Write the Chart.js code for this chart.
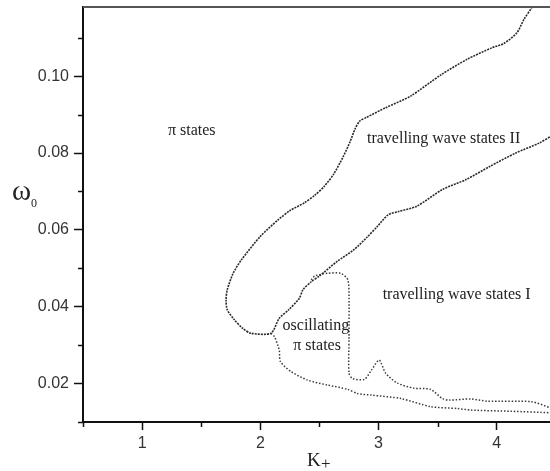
<!DOCTYPE html>
<html lang="en">
<head>
<meta charset="UTF-8">
<title>Phase diagram</title>
<script src="https://cdn.jsdelivr.net/npm/chart.js"></script>
<style>
  body { margin: 0; background: #fff; }
  #wrap { width: 550px; height: 471px; }
</style>
</head>
<body>
<div id="wrap"><canvas id="chart"></canvas></div>
<script>
// boundary of the travelling wave region (fine dotted)
const denseK = [4.30, 4.23, 4.17, 4.06, 3.96, 3.75, 3.53, 3.27, 3.06, 2.90, 2.84, 2.80, 2.76, 2.70, 2.62, 2.54, 2.46, 2.37, 2.25, 2.15, 2.00, 1.84, 1.77, 1.72, 1.71, 1.72, 1.78, 1.85, 1.92, 2.09, 2.16, 2.24, 2.33, 2.36, 2.43, 2.50, 2.65, 2.79, 2.90, 2.99, 3.08, 3.17, 3.32, 3.54, 3.74, 3.94, 4.16, 4.36, 4.46];
const denseW = [0.1180, 0.1148, 0.1113, 0.1085, 0.1074, 0.1044, 0.1004, 0.0948, 0.0918, 0.0893, 0.0883, 0.0862, 0.0830, 0.0790, 0.0745, 0.0713, 0.0690, 0.0670, 0.0650, 0.0626, 0.0583, 0.0522, 0.0487, 0.0444, 0.0418, 0.0392, 0.0366, 0.0344, 0.0331, 0.0331, 0.0370, 0.0392, 0.0422, 0.0444, 0.0465, 0.0480, 0.0518, 0.0548, 0.0580, 0.0609, 0.0639, 0.0648, 0.0661, 0.0705, 0.0731, 0.0765, 0.0800, 0.0826, 0.0844];

// oscillating pi states, upper edge
const loopK = [2.43, 2.46, 2.57, 2.68, 2.74, 2.75, 2.75, 2.75, 2.78, 2.88, 2.94, 3.005, 3.06, 3.16, 3.30, 3.44, 3.54, 3.60, 3.78, 3.92, 4.29, 4.46];
const loopW = [0.0470, 0.0480, 0.0487, 0.0487, 0.0470, 0.0426, 0.0320, 0.0227, 0.0213, 0.0211, 0.0235, 0.0261, 0.0227, 0.0201, 0.0188, 0.0185, 0.0161, 0.0157, 0.0160, 0.0154, 0.0153, 0.0136];

// oscillating pi states, lower edge
const lowK = [2.09, 2.12, 2.16, 2.17, 2.26, 2.40, 2.57, 2.74, 2.82, 2.94, 3.19, 3.44, 3.67, 3.78, 4.12, 4.46];
const lowW = [0.0331, 0.0322, 0.0287, 0.0257, 0.0231, 0.0209, 0.0196, 0.0185, 0.0174, 0.0170, 0.0161, 0.0140, 0.0135, 0.0131, 0.0128, 0.0124];

const xTicks = [0.5, 1, 1.5, 2, 2.5, 3, 3.5, 4];
const xLabels = ['', '1', '', '2', '', '3', '', '4'];
const yTicks = [0.01, 0.02, 0.03, 0.04, 0.05, 0.06, 0.07, 0.08, 0.09, 0.10, 0.11];
const yLabels = ['', '0.02', '', '0.04', '', '0.06', '', '0.08', '', '0.10', ''];

const regionNames = ['\u03c0 states', 'travelling wave states II', 'travelling wave states I', 'oscillating', '\u03c0 states'];
const regionK = [1.42, 3.55, 3.66, 2.47, 2.48];
const regionW = [0.0857, 0.0837, 0.0431, 0.0350, 0.0298];

const toPts = (xs, ys) => xs.map((x, i) => ({ x: x, y: ys[i] }));

const isMajorX = v => Math.abs(v - Math.round(v)) < 1e-6;
const isMajorY = v => Math.round(v * 100) % 2 === 0;

// minor ticks, frame top line, region names and axis titles
const extras = {
  id: 'extras',
  afterDraw(chart) {
    const { ctx, chartArea: a, scales: { x, y } } = chart;
    ctx.save();
    ctx.strokeStyle = '#111';
    ctx.lineWidth = 1.5;
    ctx.beginPath();
    xTicks.forEach(v => {
      if (isMajorX(v)) return;
      const px = Math.round(x.getPixelForValue(v)) + 0.5;
      ctx.moveTo(px, a.bottom);
      ctx.lineTo(px, a.bottom + 5);
    });
    yTicks.forEach(v => {
      if (isMajorY(v)) return;
      const py = Math.round(y.getPixelForValue(v)) + 0.5;
      ctx.moveTo(a.left, py);
      ctx.lineTo(a.left - 5, py);
    });
    ctx.stroke();

    ctx.strokeStyle = '#555';
    ctx.lineWidth = 2;
    ctx.beginPath();
    ctx.moveTo(a.left, a.top);
    ctx.lineTo(a.right, a.top);
    ctx.stroke();

    ctx.fillStyle = '#222';
    ctx.font = '16px "Liberation Serif", "Times New Roman", serif';
    ctx.textAlign = 'center';
    ctx.textBaseline = 'middle';
    regionNames.forEach((t, i) => {
      ctx.fillText(t, x.getPixelForValue(regionK[i]), y.getPixelForValue(regionW[i]));
    });

    // y title: omega with subscript 0
    ctx.textAlign = 'left';
    ctx.textBaseline = 'alphabetic';
    ctx.font = '29px "Liberation Serif", serif';
    ctx.fillText('\u03c9', 12, 200);
    ctx.font = '12px "Liberation Serif", serif';
    ctx.fillText('0', 31, 207);

    // x title: K with subscript +
    ctx.font = '19px "Liberation Serif", serif';
    ctx.fillText('K', 307, 466);
    ctx.font = '17px "Liberation Serif", serif';
    ctx.fillText('+', 321, 469);
    ctx.restore();
  }
};

const lineStyle = {
  showLine: true,
  pointRadius: 0,
  fill: false,
  tension: 0.25
};

new Chart(document.getElementById('chart'), {
  type: 'scatter',
  data: {
    datasets: [
      Object.assign({ data: toPts(denseK, denseW), borderColor: '#2a2a2a', borderWidth: 1.6, borderDash: [2, 1] }, lineStyle),
      Object.assign({ data: toPts(loopK, loopW), borderColor: '#3a3a3a', borderWidth: 1.5, borderDash: [1.5, 1.8] }, lineStyle),
      Object.assign({ data: toPts(lowK, lowW), borderColor: '#3a3a3a', borderWidth: 1.5, borderDash: [1.5, 1.8] }, lineStyle)
    ]
  },
  options: {
    responsive: true,
    maintainAspectRatio: false,
    animation: false,
    layout: { padding: { top: 7, right: 0, left: 0, bottom: 0 } },
    plugins: { legend: { display: false }, tooltip: { enabled: false } },
    scales: {
      x: {
        type: 'linear',
        min: 0.5,
        max: 4.45,
        afterBuildTicks: s => { s.ticks = xTicks.map(v => ({ value: v })); },
        afterFit: s => { s.height = 49; s.paddingLeft = 0; s.paddingRight = 0; },
        ticks: {
          callback: (v, i) => xLabels[i],
          color: '#333',
          font: { family: '"Liberation Sans", Arial, sans-serif', size: 16 },
          padding: 4,
          maxRotation: 0,
          autoSkip: false
        },
        grid: {
          drawOnChartArea: false,
          tickLength: 8,
          tickWidth: 1.5,
          color: c => (c.tick && isMajorX(c.tick.value)) ? '#111' : 'rgba(0,0,0,0)'
        },
        border: { display: true, color: '#111', width: 2 }
      },
      y: {
        type: 'linear',
        min: 0.01,
        max: 0.118,
        afterBuildTicks: s => { s.ticks = yTicks.map(v => ({ value: v })); },
        afterFit: s => { s.width = 83; s.paddingTop = 0; s.paddingBottom = 0; },
        ticks: {
          callback: (v, i) => yLabels[i],
          color: '#333',
          font: { family: '"Liberation Sans", Arial, sans-serif', size: 16 },
          padding: 5,
          autoSkip: false
        },
        grid: {
          drawOnChartArea: false,
          tickLength: 9,
          tickWidth: 1.5,
          color: c => (c.tick && isMajorY(c.tick.value)) ? '#111' : 'rgba(0,0,0,0)'
        },
        border: { display: true, color: '#111', width: 2 }
      }
    }
  },
  plugins: [extras]
});
</script>
</body>
</html>
